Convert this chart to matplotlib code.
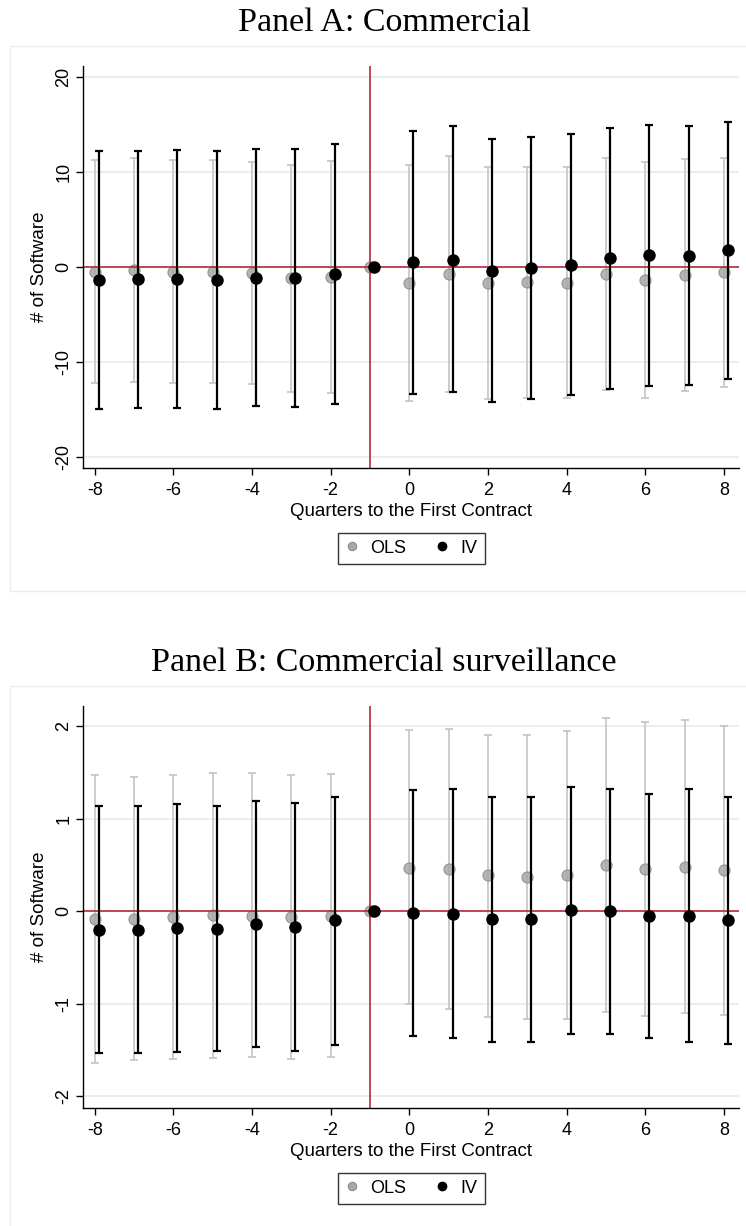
import numpy as np
import matplotlib
matplotlib.use('Agg')
import matplotlib.pyplot as plt
from matplotlib.lines import Line2D
from matplotlib.patches import Rectangle

W, H = 746, 1226

quarters = np.arange(-8, 9)

# Panel A: Commercial
ols_a = [-0.5, -0.32, -0.46, -0.46, -0.63, -1.16, -1.05, 0, -1.65, -0.7, -1.62, -1.55, -1.62, -0.67, -1.34, -0.81, -0.53]
ols_a_hi = [11.29, 11.47, 11.33, 11.33, 11.08, 10.8, 11.15, np.nan, 10.77, 11.68, 10.59, 10.56, 10.59, 11.5, 11.08, 11.4, 11.5]
ols_a_lo = [-12.2, -12.1, -12.18, -12.2, -12.32, -13.13, -13.23, np.nan, -14.1, -13.16, -13.86, -13.76, -13.8, -12.9, -13.72, -13.05, -12.6]
iv_a = [-1.34, -1.27, -1.23, -1.34, -1.09, -1.16, -0.71, 0, 0.53, 0.8, -0.35, -0.07, 0.28, 0.95, 1.26, 1.19, 1.79]
iv_a_hi = [12.27, 12.27, 12.38, 12.27, 12.45, 12.42, 13.01, np.nan, 14.35, 14.84, 13.47, 13.72, 14.03, 14.66, 14.98, 14.84, 15.33]
iv_a_lo = [-14.88, -14.78, -14.85, -14.88, -14.64, -14.74, -14.36, np.nan, -13.3, -13.16, -14.14, -13.83, -13.44, -12.78, -12.46, -12.42, -11.79]

# Panel B: Commercial surveillance
ols_b = [-0.08, -0.08, -0.06, -0.04, -0.05, -0.06, -0.05, 0, 0.47, 0.46, 0.39, 0.37, 0.39, 0.5, 0.46, 0.48, 0.44]
ols_b_hi = [1.47, 1.45, 1.47, 1.5, 1.49, 1.47, 1.48, np.nan, 1.96, 1.97, 1.91, 1.91, 1.95, 2.09, 2.05, 2.07, 2.0]
ols_b_lo = [-1.64, -1.61, -1.6, -1.59, -1.58, -1.6, -1.58, np.nan, -1.01, -1.06, -1.14, -1.17, -1.17, -1.09, -1.13, -1.1, -1.12]
iv_b = [-0.2, -0.2, -0.18, -0.19, -0.14, -0.17, -0.1, 0, -0.02, -0.03, -0.09, -0.09, 0.01, 0.0, -0.05, -0.05, -0.1]
iv_b_hi = [1.14, 1.14, 1.16, 1.14, 1.19, 1.17, 1.23, np.nan, 1.31, 1.32, 1.23, 1.24, 1.34, 1.32, 1.27, 1.32, 1.23]
iv_b_lo = [-1.54, -1.54, -1.52, -1.51, -1.47, -1.51, -1.45, np.nan, -1.35, -1.37, -1.42, -1.42, -1.33, -1.33, -1.37, -1.42, -1.44]

yticks_a = [-20, -10, 0, 10, 20]
yticks_b = [-2, -1, 0, 1, 2]
xticks = [-8, -6, -4, -2, 0, 2, 4, 6, 8]

plt.rcParams['font.family'] = ['Liberation Sans', 'DejaVu Sans']
plt.rcParams['axes.unicode_minus'] = False

RED = '#b8283c'
GRAY_BAR = '#c4c4c4'
GRAY_PT = '#a8a8a8'


def px_box(l, t, r, b):
    return [l / W, 1 - b / H, (r - l) / W, (b - t) / H]


def draw_panel(fig, dy, title, ols, ols_lo, ols_hi, iv, iv_lo, iv_hi, yticks, ylim):
    # light frame around the panel
    fig.patches.append(Rectangle((9.5 / W, 1 - (dy + 591) / H), 800 / W, 545 / H,
                                 transform=fig.transFigure, fill=False,
                                 edgecolor='#ececec', lw=1))
    fig.text(384 / W, 1 - (dy + 31) / H, title, ha='center', va='baseline',
             fontsize=24.5, family=['Liberation Serif', 'DejaVu Serif'])

    ax = fig.add_axes(px_box(83.3, dy + 66, 739.3, dy + 468))
    x = np.array(quarters, dtype=float)
    ols = np.array(ols); ols_lo = np.array(ols_lo); ols_hi = np.array(ols_hi)
    iv = np.array(iv); iv_lo = np.array(iv_lo); iv_hi = np.array(iv_hi)
    m = ~np.isnan(ols_hi)

    ax.errorbar(x[m], ols[m], yerr=[ols[m] - ols_lo[m], ols_hi[m] - ols[m]],
                fmt='none', ecolor=GRAY_BAR, elinewidth=1.2, capsize=3, capthick=1.2, zorder=2)
    ax.plot(x, ols, 'o', ms=8, mfc=GRAY_PT, mec='#8a8a8a', mew=0.8, alpha=0.85, zorder=2.2)

    ax.axhline(0, color=RED, lw=1.2, zorder=2.5)
    ax.axvline(-1, color=RED, lw=1.2, zorder=2.5)

    xi = x + 0.1
    ax.errorbar(xi[m], iv[m], yerr=[iv[m] - iv_lo[m], iv_hi[m] - iv[m]],
                fmt='none', ecolor='black', elinewidth=1.6, capsize=3, capthick=1.6, zorder=3)
    ax.plot(xi, iv, 'o', ms=8, mfc='black', mec='black', zorder=3.2)

    ax.set_xlim(-8.29, 8.39)
    ax.set_ylim(*ylim)
    ax.set_xticks(xticks)
    ax.set_yticks(yticks)
    ax.grid(axis='y', color='#e4eced', lw=1.2, zorder=0)
    ax.set_axisbelow(True)
    for s in ['top', 'right']:
        ax.spines[s].set_visible(False)
    for s in ['left', 'bottom']:
        ax.spines[s].set_linewidth(1.0)
        ax.spines[s].set_color('black')
    ax.tick_params(axis='x', length=5, width=1, pad=5, labelsize=13)
    ax.tick_params(axis='y', length=5, width=1, pad=3, labelsize=13)
    for lab in ax.get_yticklabels():
        lab.set_rotation(90)
        lab.set_va('center')

    fig.text(411.3 / W, 1 - (dy + 516) / H, 'Quarters to the First Contract',
             ha='center', va='baseline', fontsize=13.5)
    fig.text(40 / W, 1 - (dy + 267) / H, '# of Software', rotation=90,
             ha='center', va='center', fontsize=13.5)

    handles = [
        Line2D([], [], ls='none', marker='o', ms=6, mfc=GRAY_PT, mec='#8a8a8a', mew=0.8),
        Line2D([], [], ls='none', marker='o', ms=6, mfc='black', mec='black'),
    ]
    leg = fig.legend(handles, ['OLS', 'IV'], loc='center', ncol=2,
                     bbox_to_anchor=(411.3 / W, 1 - (dy + 548.3) / H),
                     fontsize=13, frameon=True, fancybox=False,
                     edgecolor='black', handlelength=0.8, handletextpad=0.6,
                     columnspacing=1.6, borderpad=0.4)
    leg.get_frame().set_linewidth(1.0)
    return ax


fig = plt.figure(figsize=(W / 100, H / 100), dpi=100)
fig.patch.set_facecolor('white')

draw_panel(fig, 0, 'Panel A: Commercial', ols_a, ols_a_lo, ols_a_hi,
           iv_a, iv_a_lo, iv_a_hi, yticks_a, (-21.13, 21.19))
draw_panel(fig, 640, 'Panel B: Commercial surveillance', ols_b, ols_b_lo, ols_b_hi,
           iv_b, iv_b_lo, iv_b_hi, yticks_b, (-2.13, 2.22))

fig.savefig('out.png', dpi=100)
